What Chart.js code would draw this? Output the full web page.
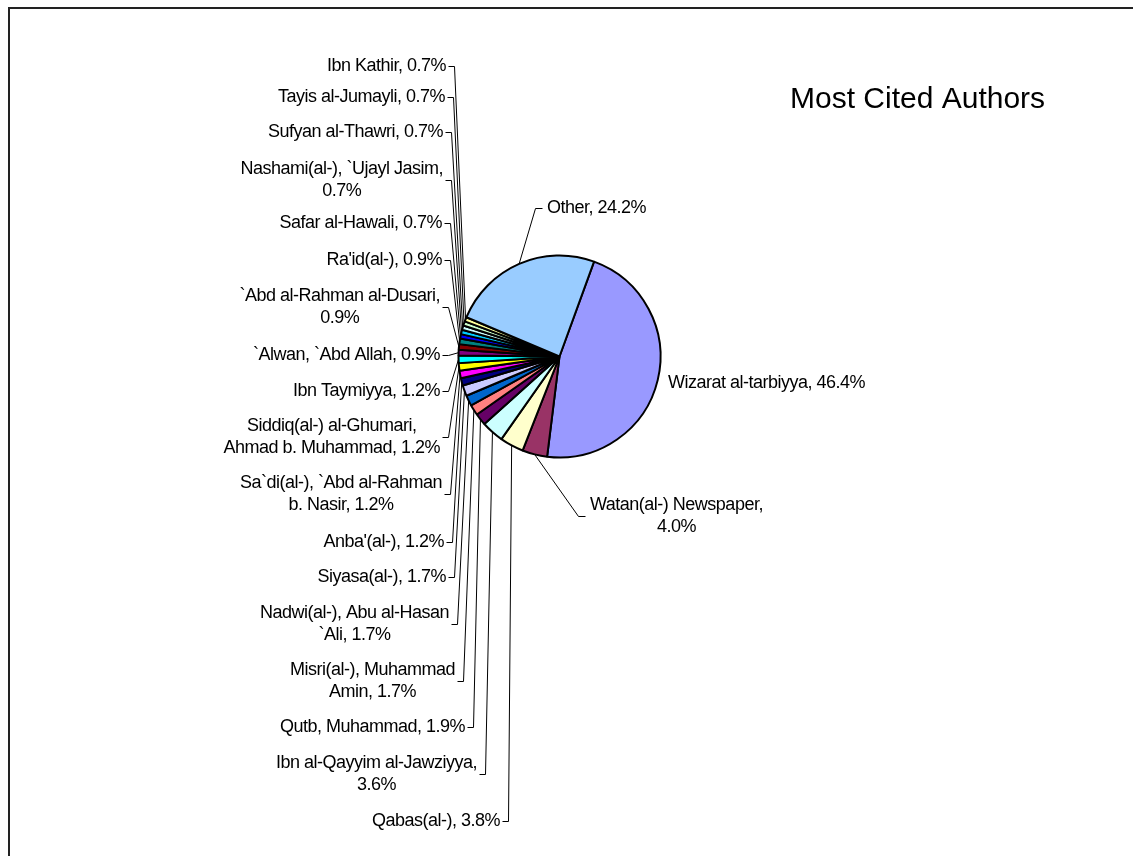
<!DOCTYPE html>
<html><head><meta charset="utf-8">
<script src="https://cdn.jsdelivr.net/npm/chart.js@4/dist/chart.umd.min.js"></script>
<style>html,body{margin:0;padding:0;background:#fff;overflow:hidden;} canvas{display:block;}</style>
</head><body>
<canvas id="c" width="1133" height="856"></canvas>
<script>
// ---- data ----
const categories = [
  "Wizarat al-tarbiyya", "Watan(al-) Newspaper", "Qabas(al-)", "Ibn al-Qayyim al-Jawziyya",
  "Qutb, Muhammad", "Misri(al-), Muhammad Amin", "Nadwi(al-), Abu al-Hasan `Ali", "Siyasa(al-)",
  "Anba'(al-)", "Sa`di(al-), `Abd al-Rahman b. Nasir", "Siddiq(al-) al-Ghumari, Ahmad b. Muhammad",
  "Ibn Taymiyya", "`Alwan, `Abd Allah", "`Abd al-Rahman al-Dusari", "Ra'id(al-)", "Safar al-Hawali",
  "Nashami(al-), `Ujayl Jasim", "Sufyan al-Thawri", "Tayis al-Jumayli", "Ibn Kathir", "Other"
];
const values = [46.4, 4.0, 3.8, 3.6, 1.9, 1.7, 1.7, 1.7, 1.2, 1.2, 1.2, 1.2, 0.9, 0.9, 0.9, 0.7, 0.7, 0.7, 0.7, 0.7, 24.2];
const colors = [
  "#9999FF", "#993366", "#FFFFCC", "#CCFFFF", "#660066", "#FF8080", "#0066CC", "#CCCCFF",
  "#000080", "#FF00FF", "#FFFF00", "#00FFFF", "#800080", "#800000", "#008080", "#0000FF",
  "#00CCFF", "#CCFFFF", "#CCFFCC", "#FFFF99", "#99CCFF"
];
const chartTitle = "Most Cited Authors";

// ---- label layout (positions only) ----
// side: L = text to the left of corner, R = text right of corner, N = no leader
// wrap: number of words on first line (0 = single line)
const labelLayout = [
  {side:"N", x:668, y:383, wrap:0},
  {side:"R", cx:578, cy:516, wrap:2},
  {side:"L", cx:508, cy:821, wrap:0},
  {side:"L", cx:485, cy:774, wrap:3},
  {side:"L", cx:473, cy:727, wrap:0},
  {side:"L", cx:463, cy:681, wrap:2},
  {side:"L", cx:457, cy:624, wrap:3},
  {side:"L", cx:454, cy:577, wrap:0},
  {side:"L", cx:452, cy:542, wrap:0},
  {side:"L", cx:450, cy:494, wrap:3},
  {side:"L", cx:448, cy:437, wrap:2},
  {side:"L", cx:448, cy:391, wrap:0},
  {side:"L", cx:448, cy:355, wrap:0},
  {side:"L", cx:448, cy:307, wrap:3},
  {side:"L", cx:450, cy:260, wrap:0},
  {side:"L", cx:450, cy:223, wrap:0},
  {side:"L", cx:451, cy:180, wrap:3},
  {side:"L", cx:451, cy:132, wrap:0},
  {side:"L", cx:453, cy:97, wrap:0},
  {side:"L", cx:454, cy:66, wrap:0},
  {side:"R", cx:535, cy:208, wrap:0}
];

const FONT = '18px "Liberation Sans", Arial, sans-serif';
const LINE_H = 21.5;

function labelLines(i) {
  const txt = categories[i] + ", " + values[i].toFixed(1) + "%";
  const w = labelLayout[i].wrap;
  if (!w) return [txt];
  const words = txt.split(" ");
  return [words.slice(0, w).join(" "), words.slice(w).join(" ")];
}

const overlay = {
  id: "overlay",
  afterDraw(chart) {
    const ctx = chart.ctx;
    ctx.save();
    // chart frame
    ctx.fillStyle = "#222";
    ctx.fillRect(8, 7, 2, 900);
    ctx.fillRect(8, 7, 1200, 2);
    // title
    ctx.fillStyle = "#000";
    ctx.font = '30px "Liberation Sans", Arial, sans-serif';
    ctx.textAlign = "left";
    ctx.textBaseline = "alphabetic";
    ctx.fillText(chartTitle, 790, 108);

    const meta = chart.getDatasetMeta(0);
    ctx.font = FONT;
    if ("letterSpacing" in ctx) ctx.letterSpacing = "-0.5px";
    ctx.textBaseline = "middle";
    ctx.strokeStyle = "#000";
    ctx.lineWidth = 1;
    meta.data.forEach((arc, i) => {
      const L = labelLayout[i];
      const lines = labelLines(i);
      const widths = lines.map(s => ctx.measureText(s).width);
      const bw = Math.max(...widths);
      let left, cy;
      if (L.side === "N") {
        left = L.x; cy = L.y;
      } else {
        const mid = (arc.startAngle + arc.endAngle) / 2;
        const ex = arc.x + Math.cos(mid) * arc.outerRadius;
        const ey = arc.y + Math.sin(mid) * arc.outerRadius;
        const stub = L.side === "L" ? -6 : 7;
        ctx.beginPath();
        ctx.moveTo(ex, ey);
        ctx.lineTo(L.cx + 0.5, L.cy + 0.5);
        ctx.lineTo(L.cx + stub + 0.5, L.cy + 0.5);
        ctx.stroke();
        cy = L.cy;
        left = L.side === "L" ? L.cx - 8 - bw : L.cx + 12;
      }
      const top = cy - (lines.length - 1) * LINE_H / 2;
      ctx.textAlign = "center";
      lines.forEach((s, k) => {
        ctx.fillText(s, left + bw / 2, top + k * LINE_H);
      });
    });
    ctx.restore();
  }
};

new Chart(document.getElementById("c"), {
  type: "pie",
  data: {
    labels: categories,
    datasets: [{
      data: values,
      backgroundColor: colors,
      borderColor: "#000",
      borderWidth: 2
    }]
  },
  options: {
    responsive: false,
    animation: false,
    rotation: 20,
    radius: 101,
    layout: { padding: { left: 459, right: 473, top: 256, bottom: 399 } },
    plugins: { legend: { display: false }, tooltip: { enabled: false }, title: { display: false } }
  },
  plugins: [overlay]
});
</script>
</body></html>
